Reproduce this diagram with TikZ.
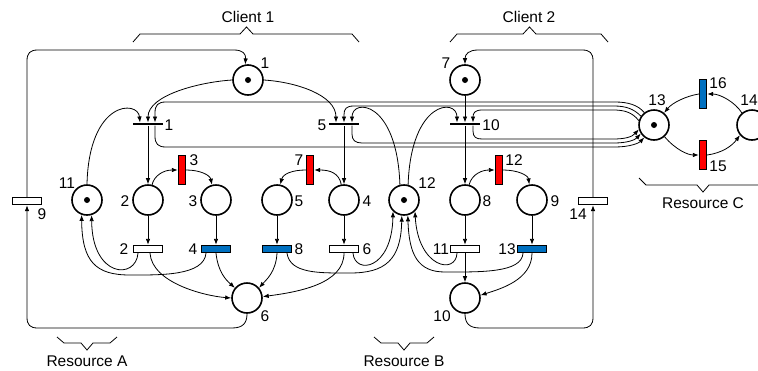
\documentclass[tikz,border=0pt]{standalone}
\usepackage{fontspec}
\setmainfont{Liberation Sans}
\usetikzlibrary{arrows.meta,calc}
\definecolor{tblue}{RGB}{0,112,192}
\definecolor{tred}{RGB}{255,0,0}
\begin{document}
\begin{tikzpicture}[x=1pt,y=-1pt,
  font=\fontsize{15.5}{18}\selectfont,
  place/.style={circle,draw,line width=1.6pt,minimum size=30pt,inner sep=0pt},
  tok/.style={circle,fill,inner sep=0pt,minimum size=6pt},
  htr/.style={rectangle,draw,line width=1.3pt,minimum width=29pt,minimum height=7pt,inner sep=0pt},
  vtr/.style={rectangle,draw,line width=1.3pt,minimum width=7pt,minimum height=29pt,inner sep=0pt},
  bar/.style={rectangle,fill,minimum width=30pt,minimum height=2.6pt,inner sep=0pt},
  arc/.style={line width=0.8pt,-{Latex[length=6pt,width=4.5pt]}},
  lbl/.style={inner sep=0pt},
  bracel/.style={line width=0.8pt}]
\useasboundingbox (0,0) rectangle (758,370);

% places
\node[place] (P1) at (248,80) {}; \node[tok] (k1) at (P1) {};
\node[place] (P7) at (465,80) {}; \node[tok] (k7) at (P7) {};
\node[place] (P11) at (87,200) {}; \node[tok] (k11) at (P11) {};
\node[place] (P2) at (148,200) {};
\node[place] (P3) at (216,200) {};
\node[place] (P5) at (277,200) {};
\node[place] (P4) at (344,200) {};
\node[place] (P12) at (404,200) {}; \node[tok] (k12) at (P12) {};
\node[place] (P8) at (465,200) {};
\node[place] (P9) at (532,200) {};
\node[place] (P6) at (247,298) {};
\node[place] (P10) at (465,298) {};
\node[place] (P13) at (654,125) {}; \node[tok] (k13) at (P13) {};
\node[place] (P14) at (752,125) {};

% transitions
\node[bar] (T1) at (148,124) {};
\node[bar] (T5) at (344,124) {};
\node[bar] (T10) at (465,124) {};
\node[vtr,fill=tred] (T3) at (182,170) {};
\node[vtr,fill=tred] (T7) at (310,170) {};
\node[vtr,fill=tred] (T12) at (499,170) {};
\node[vtr,fill=tblue] (T16) at (703,94) {};
\node[vtr,fill=tred] (T15) at (703,155) {};
\node[htr,fill=white] (T2) at (148,249) {};
\node[htr,fill=tblue] (T4) at (216,249) {};
\node[htr,fill=tblue] (T8) at (277,249) {};
\node[htr,fill=white] (T6) at (344,249) {};
\node[htr,fill=white] (T11) at (465,249) {};
\node[htr,fill=tblue] (T13) at (532,249) {};
\node[htr,fill=white] (T9) at (27,201) {};
\node[htr,fill=white] (T14) at (593,201) {};

% labels
\node[lbl] (lP1) at (265,63) {1};
\node[lbl] (lP7) at (446,63) {7};
\node[lbl] (lP11) at (67,183) {11};
\node[lbl] (lP2) at (125,201) {2};
\node[lbl] (lP3) at (193,201) {3};
\node[lbl] (lP5) at (299,201) {5};
\node[lbl] (lP4) at (367,201) {4};
\node[lbl] (lP12) at (427,183) {12};
\node[lbl] (lP8) at (487,201) {8};
\node[lbl] (lP9) at (555,201) {9};
\node[lbl] (lP6) at (265,316) {6};
\node[lbl] (lP10) at (442,316) {10};
\node[lbl] (lP13) at (657,100) {13};
\node[lbl] (lP14) at (749,100) {14};
\node[lbl] (lT1) at (169,125) {1};
\node[lbl] (lT5) at (322,125) {5};
\node[lbl] (lT10) at (491,125) {10};
\node[lbl] (lT3) at (194,160) {3};
\node[lbl] (lT7) at (299,160) {7};
\node[lbl] (lT12) at (514,160) {12};
\node[lbl] (lT16) at (718,83) {16};
\node[lbl] (lT15) at (718,166) {15};
\node[lbl] (lT2) at (124,249) {2};
\node[lbl] (lT4) at (193,249) {4};
\node[lbl] (lT8) at (299,249) {8};
\node[lbl] (lT6) at (367,249) {6};
\node[lbl] (lT11) at (441,249) {11};
\node[lbl] (lT13) at (507,249) {13};
\node[lbl] (lT9) at (42,214) {9};
\node[lbl] (lT14) at (578,214) {14};

\node[lbl] (c1) at (248,17) {Client 1};
\node[lbl] (c2) at (529,17) {Client 2};
\node[lbl] (rA) at (87,361) {Resource A};
\node[lbl] (rB) at (404,361) {Resource B};
\node[lbl] (rC) at (703,203) {Resource C};

% braces
\draw[bracel] (133,42) -- (140,34) -- (240,34) -- (246.5,27) -- (253,34) -- (352,34) -- (359,42);
\draw[bracel] (450,42) -- (457,34) -- (523,34) -- (529.5,27) -- (536,34) -- (601,34) -- (608,42);
\draw[bracel] (57,337) -- (64,343) -- (81,343) -- (87,350) -- (93,343) -- (110,343) -- (117,337);
\draw[bracel] (374,337) -- (381,343) -- (398,343) -- (404,350) -- (410,343) -- (427,343) -- (434,337);
\draw[bracel] (639,178) -- (646,185) -- (697,185) -- (703,192) -- (709,185) -- (760,185) -- (767,178);

% Client 1
\draw[arc] (P1.west) .. controls (200,82) and (148,95) .. (T1.north);
\draw[arc] (P1.east) .. controls (296,82) and (336,95) .. ($(T5.north)+(-8,0)$);
\draw[arc] (P11.north) .. controls (89,100) and (138,100) .. ($(T1.north)+(-8,0)$);
\draw[arc] (T1.south) -- (P2.north);

% loops with resource C
\draw[arc] (P13.128) .. controls (638,105) and (628,102) .. (615,102) -- (166,102) .. controls (158,102) and (155,105) .. (155,113) -- ($(T1.north)+(7,0)$);
\draw[arc] ($(T1.south)+(7,0)$) -- (155,136) .. controls (155,144) and (158,147) .. (166,147) -- (615,147) .. controls (630,147) and (639,143) .. (P13.232);
\draw[arc] (P13.146) .. controls (634,109) and (626,106) .. (614,106) -- (354,106) .. controls (346,106) and (344,109) .. (344,115) -- (T5.north);
\draw[arc] ($(T5.south)+(8,0)$) -- (352,134) .. controls (352,140) and (355,143) .. (362,143) -- (614,143) .. controls (627,143) and (635,140) .. (P13.213);
\draw[arc] (P13.164) .. controls (632,112) and (624,110) .. (613,110) -- (482,110) .. controls (475,110) and (473,113) .. (473,117) -- ($(T10.north)+(8,0)$);
\draw[arc] ($(T10.south)+(8,0)$) -- (473,131) .. controls (473,137) and (476,139) .. (482,139) -- (613,139) .. controls (625,139) and (632,137) .. (P13.196);

\draw[arc] (P2.75) .. controls (154,176) and (163,170) .. (T3.west);
\draw[arc] (T3.east) .. controls (200,170) and (210,175) .. (P3.105);
\draw[arc] (P3.south) -- (T4.north);
\draw[arc] (P2.south) -- (T2.north);
\draw[arc] ($(T2.south)+(-10,0)$) .. controls (136,280) and (92,278) .. (P11.287);
\draw[arc] ($(T4.south)+(-10,0)$) .. controls (204,276) and (160,275) .. (130,275) .. controls (96,275) and (82,262) .. (P11.250);
\draw[arc] ($(T2.south)+(2,0)$) .. controls (152,283) and (205,296) .. (P6.west);
\draw[arc] (T4.south) .. controls (218,272) and (226,280) .. (P6.140);
\draw[arc] (T8.south) .. controls (276,272) and (266,280) .. (P6.40);
\draw[arc] (T6.south) .. controls (344,284) and (298,292) .. (P6.5);
\draw[arc] ($(T8.south)+(10,0)$) .. controls (290,274) and (320,273) .. (350,273) .. controls (385,273) and (401,260) .. (P12.262);
\draw[arc] ($(T6.south)+(9,0)$) .. controls (355,275) and (392,270) .. (P12.226);

\draw[arc] (T5.south) -- (P4.north);
\draw[arc] (P4.100) .. controls (339,173) and (330,170) .. (T7.east);
\draw[arc] (T7.west) .. controls (292,170) and (283,174) .. (P5.78);
\draw[arc] (P5.south) -- (T8.north);
\draw[arc] (P4.south) -- (T6.north);
\draw[arc] (P12.105) .. controls (397,100) and (352,98) .. ($(T5.north)+(8,0)$);
\draw[arc] (P12.75) .. controls (411,100) and (457,98) .. ($(T10.north)+(-8,0)$);

% Client 2
\draw[arc] (P7.south) -- (T10.north);
\draw[arc] (T10.south) -- (P8.north);
\draw[arc] (P8.75) .. controls (472,174) and (482,170) .. (T12.west);
\draw[arc] (T12.east) .. controls (517,170) and (528,175) .. (P9.100);
\draw[arc] (P9.south) -- (T13.north);
\draw[arc] (P8.south) -- (T11.north);
\draw[arc] (T11.south) -- (P10.north);
\draw[arc] (T13.south) .. controls (532,280) and (500,289) .. (P10.10);
\draw[arc] ($(T13.south)+(-9,0)$) .. controls (522,273) and (480,272) .. (445,272) .. controls (418,272) and (409,255) .. (P12.284);
\draw[arc] ($(T11.south)+(-8,0)$) .. controls (456,275) and (418,268) .. (P12.314);

% long return arcs
\draw[arc] (P10.south) .. controls (465,323) and (469,328) .. (480,328) -- (582,328) .. controls (590,328) and (593,325) .. (593,317) -- (T14.south);
\draw[arc] (T14.north) -- (593,61) .. controls (593,53) and (590,50) .. (582,50) -- (478,50) .. controls (469,50) and (465,54) .. (P7.north);
\draw[arc] (P6.south) .. controls (247,323) and (243,328) .. (232,328) -- (38,328) .. controls (30,328) and (27,325) .. (27,317) -- (T9.south);
\draw[arc] (T9.north) -- (27,61) .. controls (27,53) and (30,50) .. (38,50) -- (234,50) .. controls (243,50) and (246,54) .. (P1.100);

% Resource C
\draw[arc] (T16.west) .. controls (686,96) and (672,103) .. (P13.50);
\draw[arc] (P14.130) .. controls (735,102) and (720,94) .. (T16.east);
\draw[arc] (P13.-48) .. controls (676,150) and (688,155) .. (T15.west);
\draw[arc] (T15.east) .. controls (722,153) and (732,146) .. (P14.220);
\end{tikzpicture}
\end{document}
